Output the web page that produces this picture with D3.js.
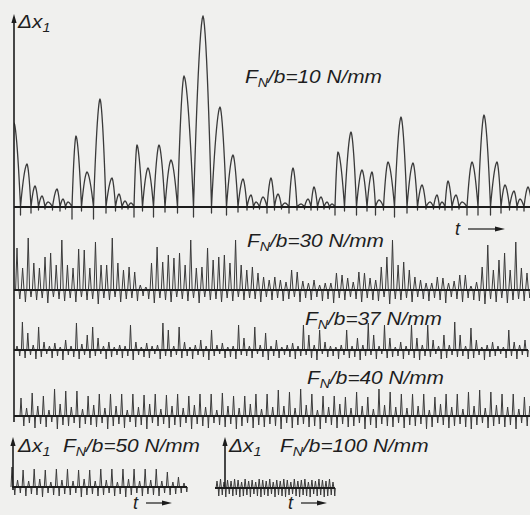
<!DOCTYPE html>
<html lang="en">
<head>
<meta charset="utf-8">
<title>Delta x1 traces</title>
<script src="https://cdn.jsdelivr.net/npm/d3@7"></script>
<style>
  body { margin: 0; background: #f0f0ee; }
  svg { display: block; }
  text { font-family: "Liberation Sans", Arial, sans-serif; font-style: italic; fill: #1e1e1e; }
</style>
</head>
<body>
<script>
// ---- data ------------------------------------------------------------
// F_N/b = 10 N/mm : time of each peak (from axis), peak height, dip after it
var peakT10 = [0, 13, 21, 28, 34, 43, 49, 54, 62, 73, 86, 98, 105, 111, 117, 123, 134, 145, 157, 170,
    189, 206, 219, 229, 237, 242, 249, 257, 264, 271, 279, 287, 294, 300, 307, 313, 318, 324, 337, 348,
    358, 365, 374, 387, 399, 408, 416, 423, 428, 434, 442, 448, 458, 470, 483, 491, 500, 506, 514];
var peakH10 = [84, 43, 21, 11, 5, 18, 8, 5, 71, 35, 108, 29, 13, 6, 4, 62, 39, 62, 47, 131,
    191, 100, 52, 28, 12, 5, 10, 29, 13, 4, 39, 3, 8, 20, 10, 5, 3, 55, 75, 37,
    35, 7, 45, 90, 44, 22, 5, 12, 5, 26, 12, 5, 45, 92, 45, 22, 16, 8, 20];
var dipH10 = [8, 6, 3, 2, 3, 4, 2, 12, 4, 12, 6, 4, 2, 2, 10, 4, 10, 5, 6, 10,
    6, 8, 5, 3, 2, 2, 6, 3, 2, 6, 3, 2, 3, 3, 2, 2, 8, 4, 8, 4,
    8, 3, 10, 6, 3, 2, 2, 2, 3, 3, 2, 8, 8, 8, 6, 3, 3, 4, 0];

// F_N/b = 30 N/mm : per cycle peak / trough
var up30 = [42, 22, 52, 27, 22, 33, 37, 25, 50, 25, 22, 41, 40, 22, 48, 25, 25, 52, 27, 20,
    23, 18, 5, 3, 27, 43, 28, 35, 32, 37, 25, 50, 22, 23, 42, 30, 33, 35, 27, 50,
    25, 20, 23, 17, 13, 10, 13, 10, 8, 20, 18, 9, 7, 10, 5, 7, 7, 17, 15, 12,
    8, 18, 17, 12, 10, 23, 33, 50, 25, 28, 20, 13, 10, 7, 7, 13, 12, 7, 9, 15,
    15, 4, 8, 23, 45, 20, 30, 37, 20, 48, 22, 17];
var dn30 = [9, 12, 7, 10, 8, 13, 7, 9, 11, 8, 12, 7, 10, 9, 14, 8, 10, 7, 12, 9,
    8, 11, 6, 9, 13, 8, 10, 12, 7, 9, 11, 8, 13, 7, 10, 9, 12, 8, 11, 7,
    10, 8, 9, 12, 7, 10, 8, 11, 9, 7, 12, 8, 10, 7, 11, 9, 13, 8, 10, 7,
    9, 12, 8, 10, 11, 7, 14, 9, 10, 8, 12, 7, 9, 11, 8, 10, 13, 7, 9, 12,
    8, 10, 11, 14, 9, 12, 8, 13, 10, 9, 11, 8];

// F_N/b = 37 N/mm
var up37 = [4, 28, 17, 5, 23, 8, 4, 7, 3, 10, 4, 27, 6, 15, 23, 12, 4, 8, 3, 5,
    4, 25, 8, 3, 7, 4, 5, 27, 20, 4, 23, 8, 3, 5, 10, 4, 20, 5, 7, 3,
    4, 25, 12, 4, 23, 5, 17, 4, 10, 3, 5, 7, 4, 25, 15, 5, 20, 8, 4, 3,
    5, 20, 4, 12, 5, 27, 15, 4, 25, 12, 3, 8, 4, 25, 12, 5, 25, 10, 4, 15,
    5, 28, 15, 4, 22, 10, 3, 5, 8, 4, 3, 20, 8, 5, 10];
var dn37 = [6, 8, 5, 9, 7, 4, 8, 6, 10, 5, 7, 9, 5, 8, 6, 4, 9, 7, 5, 8,
    6, 10, 5, 7, 8, 4, 9, 6, 7, 5, 8, 6, 9, 5, 7, 10, 6, 4, 8, 7,
    9, 5, 6, 8, 4, 7, 10, 6, 8, 5, 7, 9, 6, 5, 8, 10, 4, 7, 6, 9,
    5, 8, 7, 10, 6, 5, 9, 4, 8, 7, 6, 9, 5, 8, 10, 6, 7, 4, 9, 8,
    5, 7, 6, 9, 8, 5, 10, 7, 6, 4, 8, 6, 9, 5, 7];

// F_N/b = 40 N/mm (main peak and side peak alternate)
var up40 = [18, 8, 23, 10, 20, 6, 27, 12, 25, 9, 25, 7, 20, 11, 22, 8, 22, 10, 22, 6,
    22, 9, 21, 12, 22, 7, 21, 10, 22, 8, 20, 11, 22, 9, 22, 6, 23, 10, 20, 8,
    20, 12, 22, 7, 22, 9, 26, 10, 24, 8, 27, 11, 22, 6, 20, 9, 20, 12, 19, 8,
    24, 10, 19, 7, 27, 11, 24, 9, 22, 8, 22, 10, 22, 6, 19, 12, 22, 9, 22, 7,
    24, 10, 26, 8, 24, 11, 22, 9, 22, 7, 19, 10];
var dn40 = [10, 7, 12, 8, 11, 6, 13, 9, 10, 7, 12, 8, 9, 11, 7, 13, 10, 8, 12, 6,
    11, 9, 13, 7, 10, 8, 12, 9, 11, 7, 13, 8, 10, 12, 7, 9, 11, 8, 13, 10,
    7, 12, 9, 11, 8, 10, 13, 7, 12, 9, 8, 11, 10, 13, 7, 9, 12, 8, 11, 10,
    7, 13, 9, 12, 8, 10, 11, 7, 12, 9, 10, 8, 13, 11, 7, 9, 12, 10, 8, 11,
    13, 9, 7, 12, 10, 8, 11, 9, 13, 7, 10, 12];

// F_N/b = 50 N/mm
var up50 = [20, 7, 17, 6, 18, 8, 17, 5, 18, 7, 18, 6, 17, 8, 17, 6, 18, 7, 18, 5,
    18, 8, 18, 6, 18, 7, 18, 6, 15, 5, 10, 4];
var dn50 = [8, 6, 9, 7, 8, 10, 6, 8, 9, 7, 8, 6, 10, 8, 7, 9, 8, 6, 9, 7,
    10, 8, 6, 9, 7, 8, 9, 6, 8, 7, 6, 5];

// F_N/b = 100 N/mm
var up100 = [7, 9, 6, 8, 7, 9, 8, 6, 9, 7, 8, 6, 9, 8, 7, 9, 6, 8, 7, 9,
    8, 6, 9, 7, 8, 9, 6, 8, 7, 9, 8, 7, 9, 6];
var dn100 = [8, 7, 9, 6, 8, 7, 9, 8, 7, 9, 6, 8, 9, 7, 8, 6, 9, 7, 8, 9,
    7, 6, 8, 9, 7, 8, 9, 6, 8, 7, 9, 8, 7, 8];

var labels = ["10", "30", "37", "40", "50", "100"];

// ---- setup -----------------------------------------------------------
var w = 530, h = 515;
var ink = "#1c1c1c", trace = "#3a3a3a";

var svg = d3.select("body").append("svg")
    .attr("width", w)
    .attr("height", h);

svg.append("rect").attr("width", w).attr("height", h).attr("fill", "#f0f0ee");

svg.append("defs").append("clipPath").attr("id", "clipTop")
    .append("rect").attr("x", 14).attr("y", 0).attr("width", 516).attr("height", 240);

function yScale(base) {
    return d3.scaleLinear().domain([0, 100]).range([base, base - 100]);
}

var line = d3.line().x(function(d) { return d[0]; }).y(function(d) { return d[1]; });

// arch profile: steep sides, rounded top
function arch(u) { return 1 - Math.pow(1 - u, 1.7); }

// ---- top trace (arches) ---------------------------------------------
var xTop = d3.scaleLinear().domain([0, 516]).range([14, 530]);
var y10 = yScale(207);
var pts = [];
var n = peakT10.length;
peakT10.forEach(function(t, i) {
    var prev = i > 0 ? peakT10[i - 1] : t - (peakT10[1] - t);
    var next = i < n - 1 ? peakT10[i + 1] : t + (t - peakT10[i - 1]);
    var l = (prev + t) / 2, r = (t + next) / 2;
    var k, u;
    for (k = 0; k <= 12; k++) {
        u = k / 12;
        pts.push([xTop(l + (t - l) * u), y10(peakH10[i] * arch(u))]);
    }
    for (k = 11; k >= 0; k--) {
        u = k / 12;
        pts.push([xTop(r - (r - t) * u), y10(peakH10[i] * arch(u))]);
    }
    pts.push([xTop(r), y10(-dipH10[i])]);
    pts.push([xTop(r), y10(0)]);
});
svg.append("path")
    .attr("d", line(pts))
    .attr("clip-path", "url(#clipTop)")
    .attr("fill", "none")
    .attr("stroke", trace)
    .attr("stroke-width", 1.3)
    .attr("stroke-linejoin", "round");

// ---- dense traces (spikes) ------------------------------------------
function spikes(ups, dns, x, y, hw) {
    var step = x.step();
    var p = [[x(0) - hw, y(0)]];
    ups.forEach(function(v, i) {
        var c = x(i), m = c + step / 2;
        p.push([c - hw, y(0)], [c, y(v)], [c + hw, y(0)]);
        p.push([m - hw * 0.6, y(0)], [m, y(-dns[i])], [m + hw * 0.6, y(0)]);
    });
    return p;
}

var dense = [
    { ups: up30, dns: dn30, x0: 17, x1: 527, base: 290, hw: 1.4, a: 14, b: 530 },
    { ups: up37, dns: dn37, x0: 17, x1: 525, base: 350, hw: 1.0, a: 14, b: 528 },
    { ups: up40, dns: dn40, x0: 21, x1: 530, base: 416, hw: 1.0, a: 14, b: 530 },
    { ups: up50, dns: dn50, x0: 12, x1: 184, base: 487, hw: 1.0, a: 12, b: 187 },
    { ups: up100, dns: dn100, x0: 217, x1: 333, base: 488, hw: 0.9, a: 215, b: 335 }
];

dense.forEach(function(s) {
    var x = d3.scalePoint().domain(d3.range(s.ups.length)).range([s.x0, s.x1]);
    var y = yScale(s.base);
    svg.append("path")
        .attr("d", line(spikes(s.ups, s.dns, x, y, s.hw)))
        .attr("fill", "none")
        .attr("stroke", trace)
        .attr("stroke-width", 1)
        .attr("stroke-linejoin", "round");
});

// ---- baselines -------------------------------------------------------
var bases = [[14, 530, 207]].concat(dense.map(function(s) { return [s.a, s.b, s.base]; }));
svg.selectAll("line.base")
    .data(bases)
    .enter()
    .append("line")
    .attr("class", "base")
    .attr("x1", function(d) { return d[0]; })
    .attr("x2", function(d) { return d[1]; })
    .attr("y1", function(d) { return d[2]; })
    .attr("y2", function(d) { return d[2]; })
    .attr("stroke", ink)
    .attr("stroke-width", 2.2);

// ---- vertical axes with arrowheads -----------------------------------
var axes = [[14, 14, 422], [13, 437, 490], [225, 437, 489]];
axes.forEach(function(a) {
    svg.append("line")
        .attr("x1", a[0]).attr("x2", a[0])
        .attr("y1", a[1] + 4).attr("y2", a[2])
        .attr("stroke", ink).attr("stroke-width", 1.6);
    svg.append("path")
        .attr("d", "M" + a[0] + "," + a[1] + "L" + (a[0] - 2.6) + "," + (a[1] + 9) + "L" + (a[0] + 2.6) + "," + (a[1] + 9) + "Z")
        .attr("fill", ink);
});

// ---- text ------------------------------------------------------------
function label(x, y, parts) {
    var t = svg.append("text")
        .attr("transform", "translate(" + x + "," + y + ") scale(1.19,1)")
        .attr("font-size", 17.5);
    var sub = false;
    parts.forEach(function(p) {
        var ts = t.append("tspan").text(p[0]);
        if (p[1]) {
            ts.attr("font-size", 12).attr("dy", 4);
            sub = true;
        } else if (sub) {
            ts.attr("dy", -4);
            sub = false;
        }
    });
}

function dx(x, y) { label(x, y, [["\u0394x", false], ["1", true]]); }
function fn(x, y, v) { label(x, y, [["F", false], ["N", true], ["/b=" + v + " N/mm", false]]); }

dx(18, 28);
fn(245, 83, labels[0]);
fn(247, 247, labels[1]);
fn(305, 325, labels[2]);
fn(307, 384, labels[3]);
dx(18, 452);
fn(63, 452, labels[4]);
dx(229, 452);
fn(280, 452, labels[5]);

// t arrows
function tArrow(x, y, len) {
    svg.append("text").attr("x", x).attr("y", y).attr("font-size", 18).text("t");
    var x1 = x + 13, x2 = x1 + len, ya = y - 6;
    svg.append("line")
        .attr("x1", x1).attr("x2", x2 - 6)
        .attr("y1", ya).attr("y2", ya)
        .attr("stroke", ink).attr("stroke-width", 1.2);
    svg.append("path")
        .attr("d", "M" + x2 + "," + ya + "L" + (x2 - 10) + "," + (ya - 2.5) + "L" + (x2 - 10) + "," + (ya + 2.5) + "Z")
        .attr("fill", ink);
}
tArrow(455, 235, 37);
tArrow(133, 509, 26);
tArrow(288, 509, 26);
</script>
</body>
</html>
